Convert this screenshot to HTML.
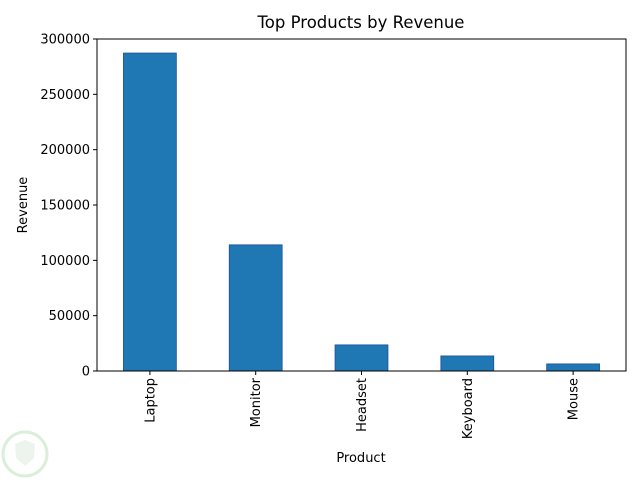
<!DOCTYPE html>
<html><head><meta charset="utf-8"><style>
body{margin:0;background:#fff;}
svg{display:block;font-family:"DejaVu Sans","Liberation Sans",sans-serif;}
</style></head><body>
<svg id="chart" width="640" height="480">
<text x="361" y="28" font-size="16.5" text-anchor="middle">Top Products by Revenue</text>
<g id="plot"></g>
<text x="361" y="462" font-size="13" text-anchor="middle">Product</text>
<text transform="translate(27,205) rotate(-90)" font-size="13" text-anchor="middle">Revenue</text>
<g opacity="0.35"><circle cx="25" cy="454" r="22" fill="none" stroke="#9c9" stroke-width="3"/><path d="M15 444 L25 440 L35 444 L34 458 L25 466 L16 458 Z" fill="#cdc"/></g>
</svg>
<script>
const categories=["Laptop","Monitor","Headset","Keyboard","Mouse"];
const revenue=[287300,114000,23600,13600,6400];
const yTicks=[0,50000,100000,150000,200000,250000,300000];
const L=97,R=626,T=39,B=371,yMax=300000;
const ns="http://www.w3.org/2000/svg";
const g=document.getElementById('plot');
const step=(R-L)/categories.length;
function xc(i){return L+step*(i+0.5);}
function y(v){return B-(v/yMax)*(B-T);}
function mk(t,a){const e=document.createElementNS(ns,t);for(const k in a)e.setAttribute(k,a[k]);g.appendChild(e);return e;}
revenue.forEach((v,i)=>{
 const r=mk('rect',{x:xc(i)-step/4,y:y(v),width:step/2,height:B-y(v),fill:'#1f77b4',stroke:'#1a4f9a','stroke-width':0.8});
 
 
});
const ax=mk('rect',{x:L,y:T,width:R-L,height:B-T,fill:'none',stroke:'#000','stroke-width':1});


yTicks.forEach(t=>{
 mk('line',{x1:L-4,x2:L,y1:y(t),y2:y(t),stroke:'#000'});
 const tx=mk('text',{x:L-7,y:y(t)+4.5,'font-size':13,'text-anchor':'end'});
 tx.textContent=t;
 
 
});
categories.forEach((c,i)=>{
 mk('line',{x1:xc(i),x2:xc(i),y1:B,y2:B+4,stroke:'#000'});
 const tx=mk('text',{transform:`translate(${xc(i)+4.5},${B+7}) rotate(-90)`,'font-size':13,'text-anchor':'end'});
 tx.textContent=c;
 
 
});
</script>
</body></html>
